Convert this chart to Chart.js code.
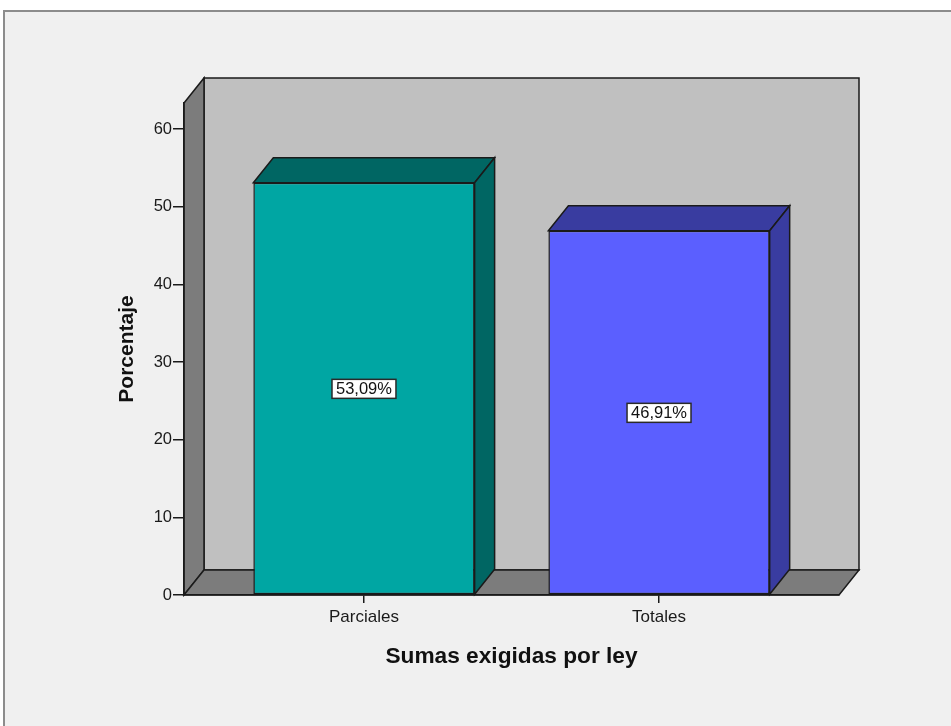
<!DOCTYPE html>
<html>
<head>
<meta charset="utf-8">
<script src="https://cdn.jsdelivr.net/npm/chart.js@4"></script>
<style>
  html, body { margin: 0; padding: 0; background: #ffffff; overflow: hidden; }
  #frame {
    position: absolute; left: 3px; top: 10px; width: 1000px; height: 800px;
    background: #f0f0f0; border-left: 2px solid #8c8c8c; border-top: 2px solid #8c8c8c;
  }
  #chart { position: absolute; left: 0; top: 0; }
</style>
</head>
<body>
<div id="frame"></div>
<canvas id="chart" width="951" height="726"></canvas>
<script>
// Percentage of cases by type of amount required by law
const categories = ['Parciales', 'Totales'];
const percentages = [53.09, 46.91];
const yTickValues = [0, 10, 20, 30, 40, 50, 60];

// Face colours: front face, then the shaded top/side faces
const frontColors = ['#00a6a3', '#5b5fff'];
const shadeColors = ['#006663', '#393ca0'];

const DEPTH_X = 20;
const DEPTH_Y = -25;
const EDGE = '#1a1a1a';
const FONT = '"Liberation Sans", Arial, sans-serif';

function formatPct(v) {
  return v.toFixed(2).replace('.', ',') + '%';
}

function poly(ctx, pts, fill) {
  ctx.beginPath();
  ctx.moveTo(pts[0][0], pts[0][1]);
  for (let i = 1; i < pts.length; i++) ctx.lineTo(pts[i][0], pts[i][1]);
  ctx.closePath();
  ctx.fillStyle = fill;
  ctx.fill();
  ctx.stroke();
}

// Back wall, left wall and floor of the 3D box
const walls = {
  id: 'walls',
  beforeDraw(chart) {
    const { ctx, chartArea: a } = chart;
    ctx.save();
    ctx.strokeStyle = EDGE;
    ctx.lineWidth = 1.5;
    poly(ctx, [[a.left + DEPTH_X, a.top + DEPTH_Y], [a.right + DEPTH_X, a.top + DEPTH_Y],
               [a.right + DEPTH_X, a.bottom + DEPTH_Y], [a.left + DEPTH_X, a.bottom + DEPTH_Y]], '#c0c0c0');
    poly(ctx, [[a.left, a.top], [a.left + DEPTH_X, a.top + DEPTH_Y],
               [a.left + DEPTH_X, a.bottom + DEPTH_Y], [a.left, a.bottom]], '#7c7c7c');
    poly(ctx, [[a.left, a.bottom], [a.left + DEPTH_X, a.bottom + DEPTH_Y],
               [a.right + DEPTH_X, a.bottom + DEPTH_Y], [a.right, a.bottom]], '#7c7c7c');
    ctx.restore();
  }
};

// Top and side faces of each bar, then the value boxes
const bars3d = {
  id: 'bars3d',
  afterDatasetsDraw(chart) {
    const { ctx } = chart;
    const yScale = chart.scales.y;
    const meta = chart.getDatasetMeta(0);
    ctx.save();
    ctx.strokeStyle = EDGE;
    ctx.lineWidth = 1.5;
    meta.data.forEach((bar, i) => {
      const p = bar.getProps(['x', 'y', 'base', 'width'], true);
      const l = p.x - p.width / 2, r = p.x + p.width / 2;
      poly(ctx, [[l, p.y], [l + DEPTH_X, p.y + DEPTH_Y], [r + DEPTH_X, p.y + DEPTH_Y], [r, p.y]], shadeColors[i]);
      poly(ctx, [[r, p.y], [r + DEPTH_X, p.y + DEPTH_Y], [r + DEPTH_X, p.base + DEPTH_Y], [r, p.base]], shadeColors[i]);
    });
    ctx.font = '16.5px ' + FONT;
    ctx.textAlign = 'center';
    ctx.textBaseline = 'middle';
    meta.data.forEach((bar, i) => {
      const text = formatPct(percentages[i]);
      const cy = yScale.getPixelForValue(percentages[i] / 2);
      const w = ctx.measureText(text).width + 8;
      const h = 19;
      ctx.fillStyle = '#ffffff';
      ctx.fillRect(bar.x - w / 2, cy - h / 2, w, h);
      ctx.strokeStyle = '#2a2a2a';
      ctx.lineWidth = 1.5;
      ctx.strokeRect(bar.x - w / 2, cy - h / 2, w, h);
      ctx.fillStyle = '#111111';
      ctx.fillText(text, bar.x, cy + 1);
    });
    ctx.restore();
  }
};

new Chart(document.getElementById('chart'), {
  type: 'bar',
  data: {
    datasets: [{
      data: categories.map((c, i) => ({ x: i, y: percentages[i] })),
      backgroundColor: frontColors,
      borderColor: EDGE,
      borderWidth: 1.5,
      borderSkipped: false,
      categoryPercentage: 0.75,
      barPercentage: 1
    }]
  },
  plugins: [walls, bars3d],
  options: {
    responsive: false,
    animation: false,
    events: [],
    layout: { padding: { top: 103, right: 112, left: 0, bottom: 0 } },
    plugins: { legend: { display: false }, tooltip: { enabled: false } },
    scales: {
      x: {
        type: 'linear',
        offset: false,
        min: -0.61,
        max: 1.61,
        afterBuildTicks: s => { s.ticks = categories.map((c, i) => ({ value: i })); },
        afterFit: s => { s.height = 131; },
        ticks: {
          callback: v => categories[v],
          color: '#1a1a1a',
          padding: 4,
          maxRotation: 0,
          font: { family: FONT, size: 17 }
        },
        grid: { offset: false, drawOnChartArea: false, drawTicks: true, tickLength: 8, color: '#1a1a1a', lineWidth: 1.5 },
        border: { display: true, color: EDGE, width: 1.5 },
        title: {
          display: true,
          text: 'Sumas exigidas por ley',
          color: '#111111',
          font: { family: FONT, size: 22.7, weight: 'bold' },
          padding: { bottom: 56 }
        }
      },
      y: {
        min: 0,
        max: 63.35,
        afterBuildTicks: s => { s.ticks = yTickValues.map(v => ({ value: v })); },
        afterFit: s => { s.width = 184; },
        ticks: {
          color: '#1a1a1a',
          padding: 1,
          font: { family: FONT, size: 16.5 }
        },
        grid: { drawOnChartArea: false, drawTicks: true, tickLength: 11, color: '#1a1a1a', lineWidth: 1.5 },
        border: { display: true, color: EDGE, width: 1.5 },
        title: {
          display: true,
          text: 'Porcentaje',
          color: '#111111',
          font: { family: FONT, size: 21, weight: 'bold' },
          padding: { top: 114.5 }
        }
      }
    }
  }
});
</script>
</body>
</html>
